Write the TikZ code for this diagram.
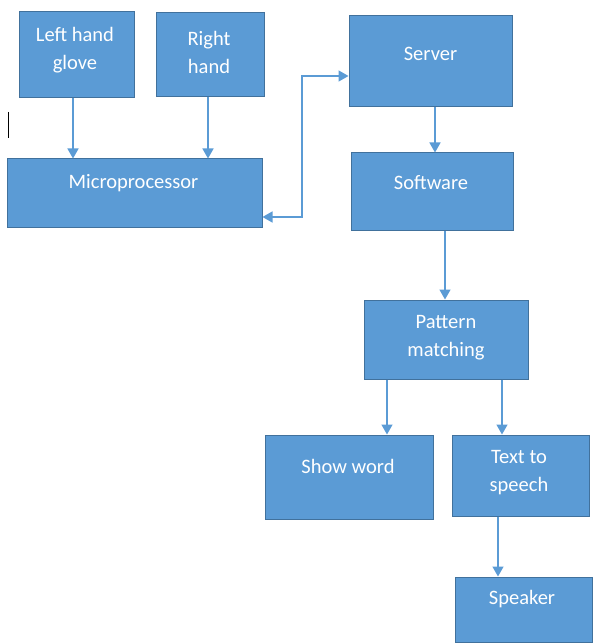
\documentclass[tikz,border=0pt]{standalone}
\usepackage{fontspec}
\setmainfont{Carlito}
\usetikzlibrary{arrows.meta,calc}
\definecolor{boxfill}{HTML}{5B9BD5}
\definecolor{boxline}{HTML}{41719C}
\definecolor{arrcol}{HTML}{5B9BD5}
\tikzset{
  box/.style={draw=boxline, line width=1pt, fill=boxfill, rectangle, inner sep=0pt},
  txt/.style={text=white, font=\fontsize{20.5}{28}\selectfont, align=center, inner sep=0pt},
  arr/.style={draw=arrcol, line width=1.5pt, -{Triangle[width=11pt,length=10pt]}},
  arrtwo/.style={draw=arrcol, line width=1.5pt, {Triangle[width=11pt,length=10pt]}-{Triangle[width=11pt,length=10pt]}}
}
\begin{document}
\begin{tikzpicture}[x=1pt,y=-1pt]
\useasboundingbox (0,0) rectangle (593,644);
% boxes
\node[box, minimum width=115pt, minimum height=86pt] (glove) at (76.5,55) {};
\node[box, minimum width=108pt, minimum height=84pt] (right) at (210,55) {};
\node[box, minimum width=255pt, minimum height=68pt] (micro) at (134.5,193) {};
\node[box, minimum width=163pt, minimum height=91pt] (server) at (430.5,61.5) {};
\node[box, minimum width=162pt, minimum height=77pt] (software) at (432,191.5) {};
\node[box, minimum width=164pt, minimum height=79pt] (pattern) at (446,339.5) {};
\node[box, minimum width=168pt, minimum height=84pt] (show) at (349,477) {};
\node[box, minimum width=137pt, minimum height=81pt] (tts) at (520.5,475.5) {};
\node[box, minimum width=137pt, minimum height=65pt] (speaker) at (523.5,609.5) {};
% texts
\node[txt] (tglove) at (75,50) {Left hand\\glove};
\node[txt] (tright) at (209,52) {Right\\hand};
\node[txt] (tmicro) at (133.5,183) {Microprocessor};
\node[txt] (tserver) at (430.5,54) {Server};
\node[txt] (tsoftware) at (431,183) {Software};
\node[txt] (tpattern) at (446,338) {Pattern\\matching};
\node[txt] (tshow) at (348,466) {Show word};
\node[txt] (ttts) at (519,473) {Text to\\speech};
\node[txt] (tspeaker) at (522,599) {Speaker};
% connectors
\draw[arr] ([xshift=-3.5pt]glove.south) -- ([xshift=-3.5pt]glove.south |- micro.north);
\draw[arr] ([xshift=-2pt]right.south) -- ([xshift=-2pt]right.south |- micro.north);
\draw[arr] ([xshift=4.5pt]server.south) -- ([xshift=4.5pt]server.south |- software.north);
\draw[arr] ([xshift=13pt]software.south) -- ([xshift=13pt]software.south |- pattern.north);
\draw[arr] ([xshift=-59pt]pattern.south) -- ([xshift=-59pt]pattern.south |- show.north);
\draw[arr] ([xshift=56pt]pattern.south) -- ([xshift=56pt]pattern.south |- tts.north);
\draw[arr] ([xshift=-22.5pt]tts.south) -- ([xshift=-22.5pt]tts.south |- speaker.north);
\coordinate (jog) at (302,0);
\draw[arrtwo] ([yshift=-14.5pt]server.west) -- ([yshift=-14.5pt]server.west -| jog) |- ([yshift=-24pt]micro.east);
% stray mark
\coordinate (m1) at (8,112);
\coordinate (m2) at (8,138);
\draw[black, line width=1pt] (m1) -- (m2);
\end{tikzpicture}
\end{document}
